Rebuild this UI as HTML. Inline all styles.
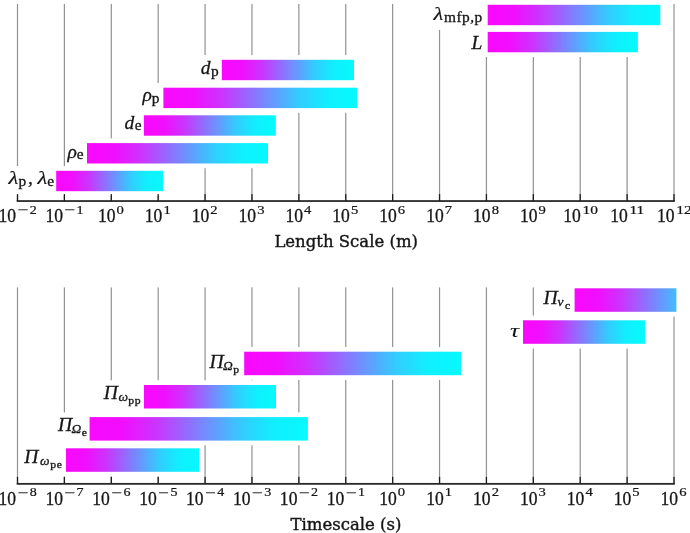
<!DOCTYPE html><html><head><meta charset="utf-8"><title>Scales</title><style>
html,body{margin:0;padding:0;background:#fff}
svg{display:block}
text{font-family:"Liberation Serif",serif;fill:#161616;stroke:#161616;stroke-width:.3px}
.t{font-size:19.5px}.e{font-size:12.2px;stroke-width:.22px}
.l{font-size:19.5px;font-style:italic}.g{font-size:18.5px;font-style:italic;stroke-width:.15px}.lt{font-size:19.5px;font-style:italic;stroke-width:.1px}.s{font-size:14px;letter-spacing:.45px}.ss{font-size:9.6px;letter-spacing:.5px}.si{font-size:13.5px;font-style:italic}
.ax{font-family:"DejaVu Serif","Liberation Serif",serif;font-size:16.5px;stroke-width:.4px}
</style></head><body>
<svg width="690" height="533" viewBox="0 0 690 533">
<defs><linearGradient id="g" x1="0" y1="0" x2="1" y2="0">
<stop offset="0" stop-color="#f908fd"/>
<stop offset="0.15" stop-color="#f10eff"/>
<stop offset="0.3" stop-color="#cc33ff"/>
<stop offset="0.5" stop-color="#7f80ff"/>
<stop offset="0.7" stop-color="#33ccff"/>
<stop offset="0.85" stop-color="#10f0ff"/>
<stop offset="1" stop-color="#06f9fe"/>
</linearGradient></defs>
<rect width="690" height="533" fill="#fff"/>
<rect x="16.90" y="4" width="1.2" height="197.00" fill="#929292"/>
<rect x="63.79" y="4" width="1.2" height="197.00" fill="#929292"/>
<rect x="110.69" y="4" width="1.2" height="197.00" fill="#929292"/>
<rect x="157.58" y="4" width="1.2" height="197.00" fill="#929292"/>
<rect x="204.47" y="4" width="1.2" height="197.00" fill="#929292"/>
<rect x="251.36" y="4" width="1.2" height="197.00" fill="#929292"/>
<rect x="298.26" y="4" width="1.2" height="197.00" fill="#929292"/>
<rect x="345.15" y="4" width="1.2" height="197.00" fill="#929292"/>
<rect x="392.04" y="4" width="1.2" height="197.00" fill="#929292"/>
<rect x="438.94" y="4" width="1.2" height="197.00" fill="#929292"/>
<rect x="485.83" y="4" width="1.2" height="197.00" fill="#929292"/>
<rect x="532.72" y="4" width="1.2" height="197.00" fill="#929292"/>
<rect x="579.61" y="4" width="1.2" height="197.00" fill="#929292"/>
<rect x="626.51" y="4" width="1.2" height="197.00" fill="#929292"/>
<rect x="673.40" y="4" width="1.2" height="197.00" fill="#929292"/>
<rect x="431.20" y="0.10" width="233.80" height="29.80" fill="#fff"/>
<rect x="469.80" y="27.20" width="172.80" height="29.80" fill="#fff"/>
<rect x="199.00" y="55.10" width="159.70" height="29.80" fill="#fff"/>
<rect x="140.80" y="83.00" width="220.90" height="29.80" fill="#fff"/>
<rect x="122.80" y="110.60" width="157.70" height="29.80" fill="#fff"/>
<rect x="65.60" y="138.40" width="207.10" height="29.80" fill="#fff"/>
<rect x="6.10" y="166.10" width="161.60" height="29.80" fill="#fff"/>
<clipPath id="c18"><rect x="0" y="0" width="676.40" height="533"/></clipPath>
<g clip-path="url(#c18)">
<rect x="487.70" y="4.80" width="172.60" height="20.4" fill="url(#g)"/>
<rect x="487.70" y="31.90" width="150.20" height="20.4" fill="url(#g)"/>
<rect x="221.80" y="59.80" width="132.20" height="20.4" fill="url(#g)"/>
<rect x="163.40" y="87.70" width="193.60" height="20.4" fill="url(#g)"/>
<rect x="143.90" y="115.30" width="131.90" height="20.4" fill="url(#g)"/>
<rect x="87.00" y="143.10" width="181.00" height="20.4" fill="url(#g)"/>
<rect x="56.20" y="170.80" width="106.80" height="20.4" fill="url(#g)"/>
</g>
<text class="g" transform="translate(433.40,19.70) scale(1.22,1)">λ</text>
<text class="s" transform="translate(444.00,21.70) scale(1.1,1)">mfp,p</text>
<text class="l" x="471.60" y="48.60">L</text>
<text class="l" x="200.80" y="74.40">d</text>
<text class="s" transform="translate(210.90,76.40) scale(1.1,1)">p</text>
<text class="l" x="142.60" y="101.00">ρ</text>
<text class="s" transform="translate(151.70,103.00) scale(1.1,1)">p</text>
<text class="l" x="124.60" y="128.80">d</text>
<text class="s" transform="translate(134.70,130.30) scale(1.1,1)">e</text>
<text class="l" x="67.40" y="157.80">ρ</text>
<text class="s" transform="translate(76.80,159.30) scale(1.1,1)">e</text>
<text class="g" transform="translate(8.50,184.30) scale(1.22,1)">λ</text>
<text class="s" transform="translate(18.50,186.30) scale(1.1,1)">p</text>
<text class="l" x="28.00" y="184.30">,</text>
<text class="g" transform="translate(37.40,184.30) scale(1.22,1)">λ</text>
<text class="s" transform="translate(47.30,185.90) scale(1.1,1)">e</text>
<rect x="16.70" y="200.15" width="658.10" height="1.8" fill="#2a2a2a"/>
<rect x="16.85" y="194.10" width="1.3" height="6.9" fill="#1c1c1c"/>
<text class="t" transform="translate(-1.50,222.20) scale(0.9,1)">10</text>
<text class="e" transform="translate(17.90,214.40) scale(1.55,1)">−</text>
<text class="e" transform="translate(29.70,213.80) scale(1.15,1)">2</text>
<rect x="63.74" y="194.10" width="1.3" height="6.9" fill="#1c1c1c"/>
<text class="t" transform="translate(45.39,222.20) scale(0.9,1)">10</text>
<text class="e" transform="translate(64.79,214.40) scale(1.55,1)">−</text>
<text class="e" transform="translate(76.59,213.80) scale(1.15,1)">1</text>
<rect x="110.64" y="194.10" width="1.3" height="6.9" fill="#1c1c1c"/>
<text class="t" transform="translate(97.89,222.20) scale(0.9,1)">10</text>
<text class="e" transform="translate(116.49,213.80) scale(1.2,1)">0</text>
<rect x="157.53" y="194.10" width="1.3" height="6.9" fill="#1c1c1c"/>
<text class="t" transform="translate(144.78,222.20) scale(0.9,1)">10</text>
<text class="e" transform="translate(163.38,213.80) scale(1.2,1)">1</text>
<rect x="204.42" y="194.10" width="1.3" height="6.9" fill="#1c1c1c"/>
<text class="t" transform="translate(191.67,222.20) scale(0.9,1)">10</text>
<text class="e" transform="translate(210.27,213.80) scale(1.2,1)">2</text>
<rect x="251.31" y="194.10" width="1.3" height="6.9" fill="#1c1c1c"/>
<text class="t" transform="translate(238.56,222.20) scale(0.9,1)">10</text>
<text class="e" transform="translate(257.16,213.80) scale(1.2,1)">3</text>
<rect x="298.21" y="194.10" width="1.3" height="6.9" fill="#1c1c1c"/>
<text class="t" transform="translate(285.46,222.20) scale(0.9,1)">10</text>
<text class="e" transform="translate(304.06,213.80) scale(1.2,1)">4</text>
<rect x="345.10" y="194.10" width="1.3" height="6.9" fill="#1c1c1c"/>
<text class="t" transform="translate(332.35,222.20) scale(0.9,1)">10</text>
<text class="e" transform="translate(350.95,213.80) scale(1.2,1)">5</text>
<rect x="391.99" y="194.10" width="1.3" height="6.9" fill="#1c1c1c"/>
<text class="t" transform="translate(379.24,222.20) scale(0.9,1)">10</text>
<text class="e" transform="translate(397.84,213.80) scale(1.2,1)">6</text>
<rect x="438.89" y="194.10" width="1.3" height="6.9" fill="#1c1c1c"/>
<text class="t" transform="translate(426.14,222.20) scale(0.9,1)">10</text>
<text class="e" transform="translate(444.74,213.80) scale(1.2,1)">7</text>
<rect x="485.78" y="194.10" width="1.3" height="6.9" fill="#1c1c1c"/>
<text class="t" transform="translate(473.03,222.20) scale(0.9,1)">10</text>
<text class="e" transform="translate(491.63,213.80) scale(1.2,1)">8</text>
<rect x="532.67" y="194.10" width="1.3" height="6.9" fill="#1c1c1c"/>
<text class="t" transform="translate(519.92,222.20) scale(0.9,1)">10</text>
<text class="e" transform="translate(538.52,213.80) scale(1.2,1)">9</text>
<rect x="579.56" y="194.10" width="1.3" height="6.9" fill="#1c1c1c"/>
<text class="t" transform="translate(563.31,222.20) scale(0.9,1)">10</text>
<text class="e" transform="translate(582.51,213.80) scale(1.27,1)">10</text>
<rect x="626.46" y="194.10" width="1.3" height="6.9" fill="#1c1c1c"/>
<text class="t" transform="translate(610.21,222.20) scale(0.9,1)">10</text>
<text class="e" transform="translate(629.41,213.80) scale(1.27,1)">11</text>
<rect x="673.35" y="194.10" width="1.3" height="6.9" fill="#1c1c1c"/>
<text class="t" transform="translate(657.10,222.20) scale(0.9,1)">10</text>
<text class="e" transform="translate(676.30,213.80) scale(1.27,1)">12</text>
<text class="ax" x="346.2" y="247.4" text-anchor="middle">Length Scale (m)</text>
<rect x="16.90" y="287.4" width="1.2" height="196.40" fill="#929292"/>
<rect x="63.79" y="287.4" width="1.2" height="196.40" fill="#929292"/>
<rect x="110.69" y="287.4" width="1.2" height="196.40" fill="#929292"/>
<rect x="157.58" y="287.4" width="1.2" height="196.40" fill="#929292"/>
<rect x="204.47" y="287.4" width="1.2" height="196.40" fill="#929292"/>
<rect x="251.36" y="287.4" width="1.2" height="196.40" fill="#929292"/>
<rect x="298.26" y="287.4" width="1.2" height="196.40" fill="#929292"/>
<rect x="345.15" y="287.4" width="1.2" height="196.40" fill="#929292"/>
<rect x="392.04" y="287.4" width="1.2" height="196.40" fill="#929292"/>
<rect x="438.94" y="287.4" width="1.2" height="196.40" fill="#929292"/>
<rect x="485.83" y="287.4" width="1.2" height="196.40" fill="#929292"/>
<rect x="532.72" y="287.4" width="1.2" height="196.40" fill="#929292"/>
<rect x="579.61" y="287.4" width="1.2" height="196.40" fill="#929292"/>
<rect x="626.51" y="287.4" width="1.2" height="196.40" fill="#929292"/>
<rect x="673.40" y="287.4" width="1.2" height="196.40" fill="#929292"/>
<rect x="541.70" y="283.60" width="192.00" height="32.90" fill="#fff"/>
<rect x="508.60" y="315.60" width="141.10" height="32.90" fill="#fff"/>
<rect x="207.60" y="347.00" width="258.10" height="32.90" fill="#fff"/>
<rect x="102.60" y="380.30" width="178.10" height="32.90" fill="#fff"/>
<rect x="56.20" y="412.40" width="256.40" height="32.90" fill="#fff"/>
<rect x="22.50" y="443.60" width="181.40" height="32.90" fill="#fff"/>
<clipPath id="c12"><rect x="0" y="0" width="676.40" height="533"/></clipPath>
<g clip-path="url(#c12)">
<rect x="574.60" y="288.30" width="154.40" height="23.5" fill="url(#g)"/>
<rect x="523.00" y="320.30" width="122.00" height="23.5" fill="url(#g)"/>
<rect x="244.20" y="351.70" width="216.80" height="23.5" fill="url(#g)"/>
<rect x="144.00" y="385.00" width="132.00" height="23.5" fill="url(#g)"/>
<rect x="89.60" y="417.10" width="218.30" height="23.5" fill="url(#g)"/>
<rect x="66.00" y="448.30" width="133.20" height="23.5" fill="url(#g)"/>
</g>
<text class="l" x="543.50" y="303.90">Π</text>
<text class="si" x="557.40" y="306.10">ν</text>
<text class="ss" transform="translate(565.00,308.90) scale(1.22,1)">c</text>
<text class="lt" transform="translate(510.00,336.80) scale(1.3,1)">τ</text>
<text class="l" x="209.40" y="367.80">Π</text>
<text class="si" x="223.00" y="370.00">Ω</text>
<text class="ss" transform="translate(233.30,373.00) scale(1.22,1)">p</text>
<text class="l" x="103.80" y="399.10">Π</text>
<text class="si" x="118.50" y="401.30">ω</text>
<text class="ss" transform="translate(128.30,404.30) scale(1.22,1)">pp</text>
<text class="l" x="58.00" y="430.80">Π</text>
<text class="si" x="71.60" y="433.00">Ω</text>
<text class="ss" transform="translate(81.80,435.80) scale(1.22,1)">e</text>
<text class="l" x="24.30" y="463.00">Π</text>
<text class="si" x="40.00" y="465.30">ω</text>
<text class="ss" transform="translate(50.20,468.00) scale(1.22,1)">pe</text>
<rect x="16.70" y="482.95" width="658.10" height="1.8" fill="#2a2a2a"/>
<rect x="16.85" y="476.90" width="1.3" height="6.9" fill="#1c1c1c"/>
<text class="t" transform="translate(-1.50,504.60) scale(0.9,1)">10</text>
<text class="e" transform="translate(17.90,496.80) scale(1.55,1)">−</text>
<text class="e" transform="translate(29.70,496.20) scale(1.15,1)">8</text>
<rect x="63.74" y="476.90" width="1.3" height="6.9" fill="#1c1c1c"/>
<text class="t" transform="translate(45.39,504.60) scale(0.9,1)">10</text>
<text class="e" transform="translate(64.79,496.80) scale(1.55,1)">−</text>
<text class="e" transform="translate(76.59,496.20) scale(1.15,1)">7</text>
<rect x="110.64" y="476.90" width="1.3" height="6.9" fill="#1c1c1c"/>
<text class="t" transform="translate(92.29,504.60) scale(0.9,1)">10</text>
<text class="e" transform="translate(111.69,496.80) scale(1.55,1)">−</text>
<text class="e" transform="translate(123.49,496.20) scale(1.15,1)">6</text>
<rect x="157.53" y="476.90" width="1.3" height="6.9" fill="#1c1c1c"/>
<text class="t" transform="translate(139.18,504.60) scale(0.9,1)">10</text>
<text class="e" transform="translate(158.58,496.80) scale(1.55,1)">−</text>
<text class="e" transform="translate(170.38,496.20) scale(1.15,1)">5</text>
<rect x="204.42" y="476.90" width="1.3" height="6.9" fill="#1c1c1c"/>
<text class="t" transform="translate(186.07,504.60) scale(0.9,1)">10</text>
<text class="e" transform="translate(205.47,496.80) scale(1.55,1)">−</text>
<text class="e" transform="translate(217.27,496.20) scale(1.15,1)">4</text>
<rect x="251.31" y="476.90" width="1.3" height="6.9" fill="#1c1c1c"/>
<text class="t" transform="translate(232.96,504.60) scale(0.9,1)">10</text>
<text class="e" transform="translate(252.36,496.80) scale(1.55,1)">−</text>
<text class="e" transform="translate(264.16,496.20) scale(1.15,1)">3</text>
<rect x="298.21" y="476.90" width="1.3" height="6.9" fill="#1c1c1c"/>
<text class="t" transform="translate(279.86,504.60) scale(0.9,1)">10</text>
<text class="e" transform="translate(299.26,496.80) scale(1.55,1)">−</text>
<text class="e" transform="translate(311.06,496.20) scale(1.15,1)">2</text>
<rect x="345.10" y="476.90" width="1.3" height="6.9" fill="#1c1c1c"/>
<text class="t" transform="translate(326.75,504.60) scale(0.9,1)">10</text>
<text class="e" transform="translate(346.15,496.80) scale(1.55,1)">−</text>
<text class="e" transform="translate(357.95,496.20) scale(1.15,1)">1</text>
<rect x="391.99" y="476.90" width="1.3" height="6.9" fill="#1c1c1c"/>
<text class="t" transform="translate(379.24,504.60) scale(0.9,1)">10</text>
<text class="e" transform="translate(397.84,496.20) scale(1.2,1)">0</text>
<rect x="438.89" y="476.90" width="1.3" height="6.9" fill="#1c1c1c"/>
<text class="t" transform="translate(426.14,504.60) scale(0.9,1)">10</text>
<text class="e" transform="translate(444.74,496.20) scale(1.2,1)">1</text>
<rect x="485.78" y="476.90" width="1.3" height="6.9" fill="#1c1c1c"/>
<text class="t" transform="translate(473.03,504.60) scale(0.9,1)">10</text>
<text class="e" transform="translate(491.63,496.20) scale(1.2,1)">2</text>
<rect x="532.67" y="476.90" width="1.3" height="6.9" fill="#1c1c1c"/>
<text class="t" transform="translate(519.92,504.60) scale(0.9,1)">10</text>
<text class="e" transform="translate(538.52,496.20) scale(1.2,1)">3</text>
<rect x="579.56" y="476.90" width="1.3" height="6.9" fill="#1c1c1c"/>
<text class="t" transform="translate(566.81,504.60) scale(0.9,1)">10</text>
<text class="e" transform="translate(585.41,496.20) scale(1.2,1)">4</text>
<rect x="626.46" y="476.90" width="1.3" height="6.9" fill="#1c1c1c"/>
<text class="t" transform="translate(613.71,504.60) scale(0.9,1)">10</text>
<text class="e" transform="translate(632.31,496.20) scale(1.2,1)">5</text>
<rect x="673.35" y="476.90" width="1.3" height="6.9" fill="#1c1c1c"/>
<text class="t" transform="translate(660.60,504.60) scale(0.9,1)">10</text>
<text class="e" transform="translate(679.20,496.20) scale(1.2,1)">6</text>
<text class="ax" x="346" y="530" text-anchor="middle">Timescale (s)</text>
</svg></body></html>
